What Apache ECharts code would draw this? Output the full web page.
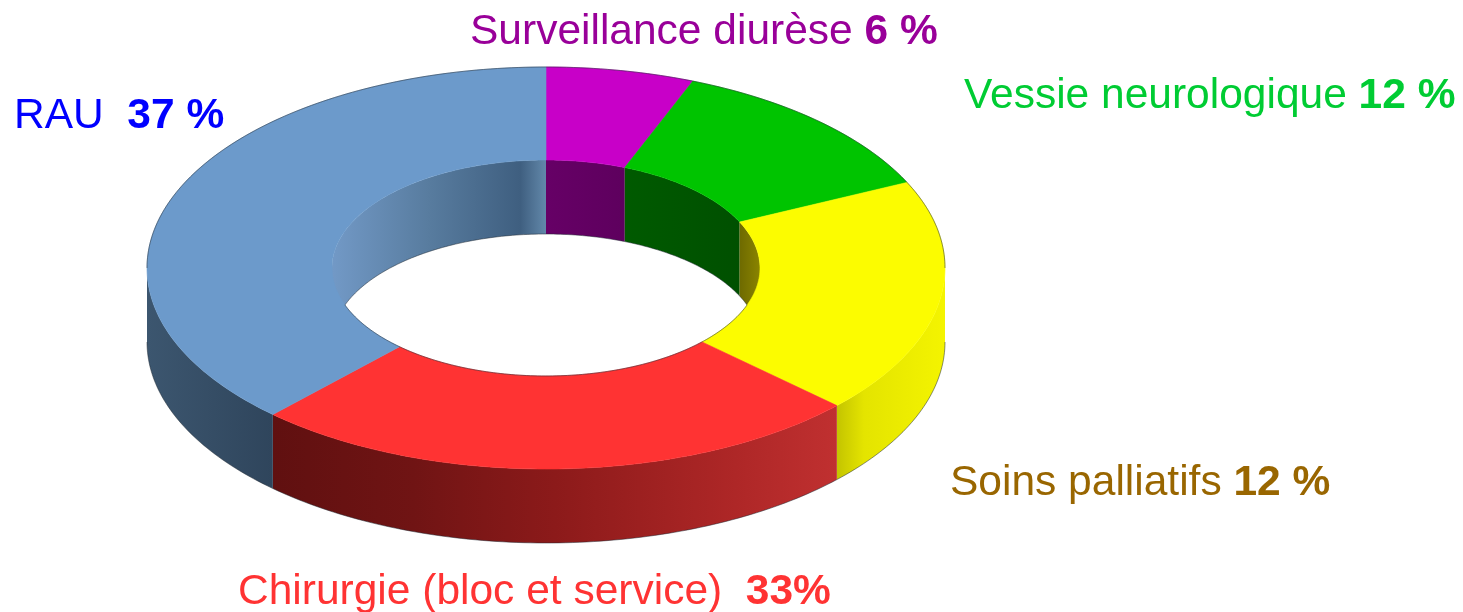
<!DOCTYPE html>
<html>
<head>
<meta charset="utf-8">
<title>Indications</title>
<script src="https://cdn.jsdelivr.net/npm/echarts@6/dist/echarts.min.js"></script>
<style>
html, body { margin: 0; padding: 0; background: #fff; }
#main { width: 1463px; height: 612px; }
</style>
</head>
<body>
<div id="main"></div>
<script>
// parts de l'anneau (les angles ne suivent pas tout a fait les libelles)
var names = ['Surveillance diurèse', 'Vessie neurologique', 'Soins palliatifs', 'Chirurgie (bloc et service)', 'RAU'];
var shares = [6, 12, 19, 25, 38];
var percents = ['6 %', '12 %', '12 %', '33%', '37 %'];
var gaps = [' ', ' ', ' ', '  ', '  '];

var topColors = ['#c800c8', '#00c400', '#fcfc00', '#ff3333', '#6c9acb'];
var textColors = ['#990099', '#00cc33', '#996600', '#ff3333', '#0000ff'];
// [position, couleur] sur la largeur de chaque paroi
var outerStops = [
    [[0, '#888888'], [1, '#888888']],
    [[0, '#888888'], [1, '#888888']],
    [[0, '#c4c400'], [0.25, '#e4e400'], [1, '#f4f400']],
    [[0, '#601010'], [0.25, '#701414'], [0.5, '#8c1a1a'], [0.8, '#ac2626'], [1, '#c03030']],
    [[0, '#3c566f'], [1, '#2f455c']]
];
var innerStops = [
    [[0, '#660066'], [1, '#5e005e']],
    [[0, '#005a00'], [1, '#005000']],
    [[0, '#6e6a00'], [1, '#8a8400']],
    [[0, '#888888'], [1, '#888888']],
    [[0, '#7299c6'], [0.45, '#587c9f'], [0.88, '#3f5f80'], [1, '#6288aa']]
];
var labelPos = [[470, 32], [964, 96], [950, 483], [238, 592], [14, 116]];

var cx = 546, cy = 268, rx = 399, ry = 201;
var rx2 = 214, ry2 = 108, depth = 74;
var edge = 'rgba(30,40,50,0.5)';
var total = shares.reduce(function (a, b) { return a + b; }, 0);
// angle ou le bas de la paroi interieure croise le bord du trou
var holeCut = Math.acos(depth / (2 * ry2)) * 180 / Math.PI;

function pt(a, w, h, dy) {
    var r = a * Math.PI / 180;
    return [cx + w * Math.sin(r), cy - h * Math.cos(r) + (dy || 0)];
}

function arc(a0, a1, w, h, dy) {
    var pts = [];
    var n = Math.max(2, Math.ceil(Math.abs(a1 - a0)));
    for (var i = 0; i <= n; i++) {
        pts.push(pt(a0 + (a1 - a0) * i / n, w, h, dy));
    }
    return pts;
}

function shade(stops, a0, a1, w) {
    var x0 = pt(a0, w, 0)[0], x1 = pt(a1, w, 0)[0];
    return {
        type: 'linear', global: true,
        x: Math.min(x0, x1), y: 0, x2: Math.max(x0, x1), y2: 0,
        colorStops: stops.map(function (s) {
            return { offset: s[0], color: s[1] };
        })
    };
}

function face(pts, fill, z2) {
    return {
        type: 'polygon', z2: z2,
        shape: { points: pts },
        style: { fill: fill, stroke: fill.type ? null : fill, lineWidth: 0.6 }
    };
}

// paroi verticale entre deux angles, sur l'ellipse w/h
function wall(a0, a1, w, h, stops, z2) {
    var pts = arc(a0, a1, w, h, 0).concat(arc(a1, a0, w, h, depth));
    return face(pts, shade(stops, a0, a1, w), z2);
}

function outline(pts) {
    return {
        type: 'polyline', z2: 6,
        shape: { points: pts },
        style: { fill: null, stroke: edge, lineWidth: 1 }
    };
}

// contour sombre : seulement sur [from, to] de la tranche
function edgeOn(kids, a0, a1, from, to, w, h, dy) {
    var s = Math.max(a0, from), e = Math.min(a1, to);
    if (e > s) kids.push(outline(arc(s, e, w, h, dy)));
}

function renderSlice(params, api) {
    var i = params.dataIndex;
    var before = 0;
    for (var k = 0; k < i; k++) before += shares[k];
    var a0 = before / total * 360;
    var a1 = (before + api.value(0)) / total * 360;
    var kids = [];

    // face exterieure : moitie avant seulement
    var o0 = Math.max(a0, 90), o1 = Math.min(a1, 270);
    if (o1 > o0) kids.push(wall(o0, o1, rx, ry, outerStops[i], 1));

    // face interieure : moitie arriere seulement
    if (a0 < 90) kids.push(wall(a0, Math.min(a1, 90), rx2, ry2, innerStops[i], 1));
    if (a1 > 270) kids.push(wall(Math.max(a0, 270), a1, rx2, ry2, innerStops[i], 1));

    // dessus
    kids.push(face(arc(a0, a1, rx, ry).concat(arc(a1, a0, rx2, ry2)), topColors[i], 5));

    // bords
    edgeOn(kids, a0, a1, 0, 90, rx, ry, 0);
    edgeOn(kids, a0, a1, 270, 360, rx, ry, 0);
    edgeOn(kids, a0, a1, 90, 270, rx, ry, depth);
    edgeOn(kids, a0, a1, 0, holeCut, rx2, ry2, depth);
    edgeOn(kids, a0, a1, 360 - holeCut, 360, rx2, ry2, depth);
    edgeOn(kids, a0, a1, 180 - holeCut, 180 + holeCut, rx2, ry2, 0);

    var rich = {
        n: { fontFamily: 'Liberation Sans', fontSize: 42.5, fill: textColors[i] },
        p: { fontFamily: 'Liberation Sans', fontSize: 42.5, fontWeight: 'bold', fill: textColors[i] }
    };
    kids.push({
        type: 'text', z2: 10,
        x: labelPos[i][0], y: labelPos[i][1],
        style: {
            text: '{n|' + names[i] + gaps[i] + '}{p|' + percents[i] + '}',
            rich: rich,
            align: 'left', verticalAlign: 'middle'
        }
    });
    return { type: 'group', children: kids };
}

var myChart = echarts.init(document.getElementById('main'), null, { renderer: 'canvas' });

myChart.setOption({
    animation: false,
    backgroundColor: '#fff',
    series: [{
        type: 'custom',
        coordinateSystem: 'none',
        silent: true,
        clip: false,
        renderItem: renderSlice,
        data: shares.map(function (v, i) { return { name: names[i], value: [v] }; })
    }]
});
</script>
</body>
</html>
